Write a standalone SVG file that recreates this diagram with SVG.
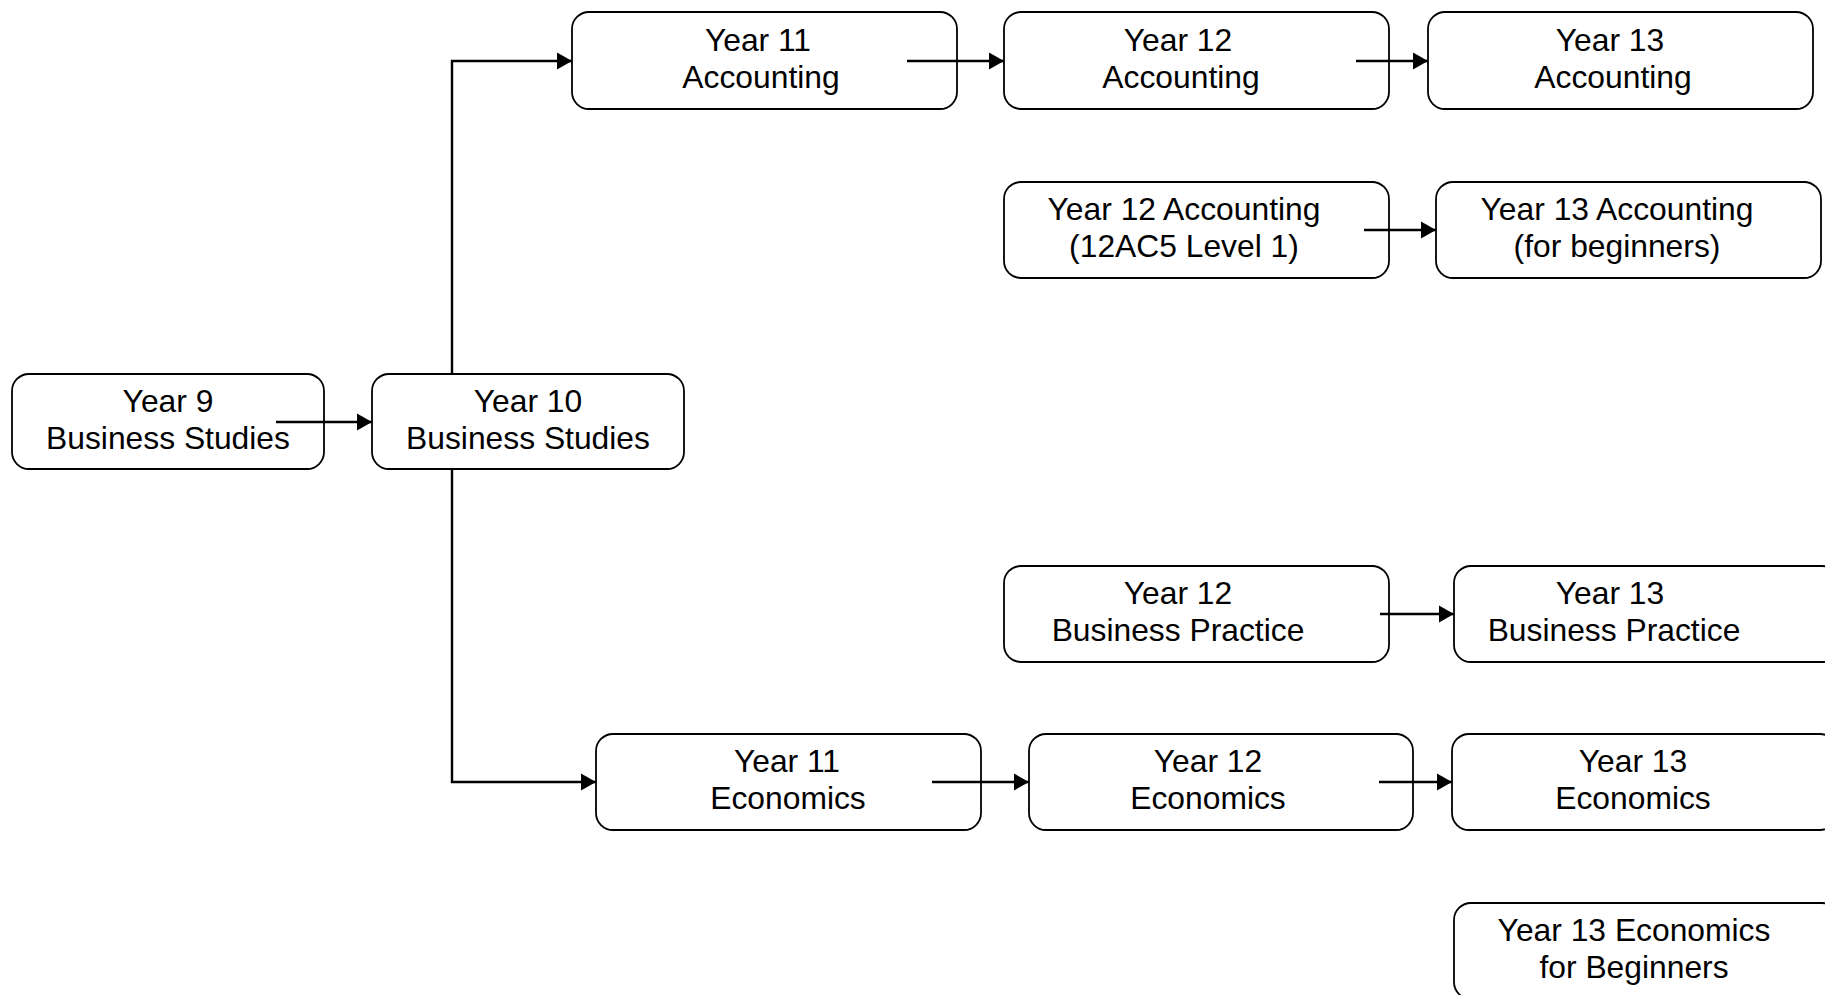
<svg xmlns="http://www.w3.org/2000/svg" width="1825" height="995" viewBox="0 0 1825 995">
<defs>
<style>
.box{fill:#fff;stroke:#000;stroke-width:1.8}
.t{font-family:"Liberation Sans",Arial,sans-serif;font-size:31.8px;fill:#000;text-anchor:middle}
.c{fill:none;stroke:#000;stroke-width:2.4}
</style>
<marker id="ah" markerWidth="16" markerHeight="18" refX="15" refY="9" orient="auto" markerUnits="userSpaceOnUse">
<path d="M0,0.5 L15,9 L0,17.5 Z" fill="#000"/>
</marker>
</defs>
<rect width="1825" height="995" fill="#fff"/>
<g id="y9"><rect class="box" x="12" y="374" width="312" height="95" rx="17"/>
<text class="t" x="168" y="412">Year 9</text><text class="t" x="168" y="449">Business Studies</text></g>
<g id="y10"><rect class="box" x="372" y="374" width="312" height="95" rx="17"/>
<text class="t" x="528" y="412">Year 10</text><text class="t" x="528" y="449">Business Studies</text></g>
<g id="y11acc"><rect class="box" x="572" y="12" width="385" height="97" rx="17"/>
<text class="t" x="758" y="51">Year 11</text><text class="t" x="761" y="88">Accounting</text></g>
<g id="y12acc"><rect class="box" x="1004" y="12" width="385" height="97" rx="17"/>
<text class="t" x="1178" y="51">Year 12</text><text class="t" x="1181" y="88">Accounting</text></g>
<g id="y13acc"><rect class="box" x="1428" y="12" width="385" height="97" rx="17"/>
<text class="t" x="1610" y="51">Year 13</text><text class="t" x="1613" y="88">Accounting</text></g>
<g id="y12acc5"><rect class="box" x="1004" y="182" width="385" height="96" rx="17"/>
<text class="t" x="1184" y="220">Year 12 Accounting</text><text class="t" x="1184" y="257">(12AC5 Level 1)</text></g>
<g id="y13accb"><rect class="box" x="1436" y="182" width="385" height="96" rx="17"/>
<text class="t" x="1617" y="220">Year 13 Accounting</text><text class="t" x="1617" y="257">(for beginners)</text></g>
<g id="y12bp"><rect class="box" x="1004" y="566" width="385" height="96" rx="17"/>
<text class="t" x="1178" y="604">Year 12</text><text class="t" x="1178" y="641">Business Practice</text></g>
<g id="y13bp"><rect class="box" x="1454" y="566" width="385" height="96" rx="17"/>
<text class="t" x="1610" y="604">Year 13</text><text class="t" x="1614" y="641">Business Practice</text></g>
<g id="y11eco"><rect class="box" x="596" y="734" width="385" height="96" rx="17"/>
<text class="t" x="787" y="772">Year 11</text><text class="t" x="788" y="809">Economics</text></g>
<g id="y12eco"><rect class="box" x="1029" y="734" width="384" height="96" rx="17"/>
<text class="t" x="1208" y="772">Year 12</text><text class="t" x="1208" y="809">Economics</text></g>
<g id="y13eco"><rect class="box" x="1452" y="734" width="385" height="96" rx="17"/>
<text class="t" x="1633" y="772">Year 13</text><text class="t" x="1633" y="809">Economics</text></g>
<g id="y13ecob"><rect class="box" x="1454" y="903" width="385" height="96" rx="17"/>
<text class="t" x="1634" y="941">Year 13 Economics</text><text class="t" x="1634" y="978">for Beginners</text></g>
<g id="connectors">
<path class="c" d="M276,422 H372" marker-end="url(#ah)"/>
<path class="c" d="M452,374 V61 H572" marker-end="url(#ah)"/>
<path class="c" d="M452,469 V782 H596" marker-end="url(#ah)"/>
<path class="c" d="M907,61 H1004" marker-end="url(#ah)"/>
<path class="c" d="M1356,61 H1428" marker-end="url(#ah)"/>
<path class="c" d="M1364,230 H1436" marker-end="url(#ah)"/>
<path class="c" d="M1380,614 H1454" marker-end="url(#ah)"/>
<path class="c" d="M932,782 H1029" marker-end="url(#ah)"/>
<path class="c" d="M1379,782 H1452" marker-end="url(#ah)"/>
</g>
</svg>
